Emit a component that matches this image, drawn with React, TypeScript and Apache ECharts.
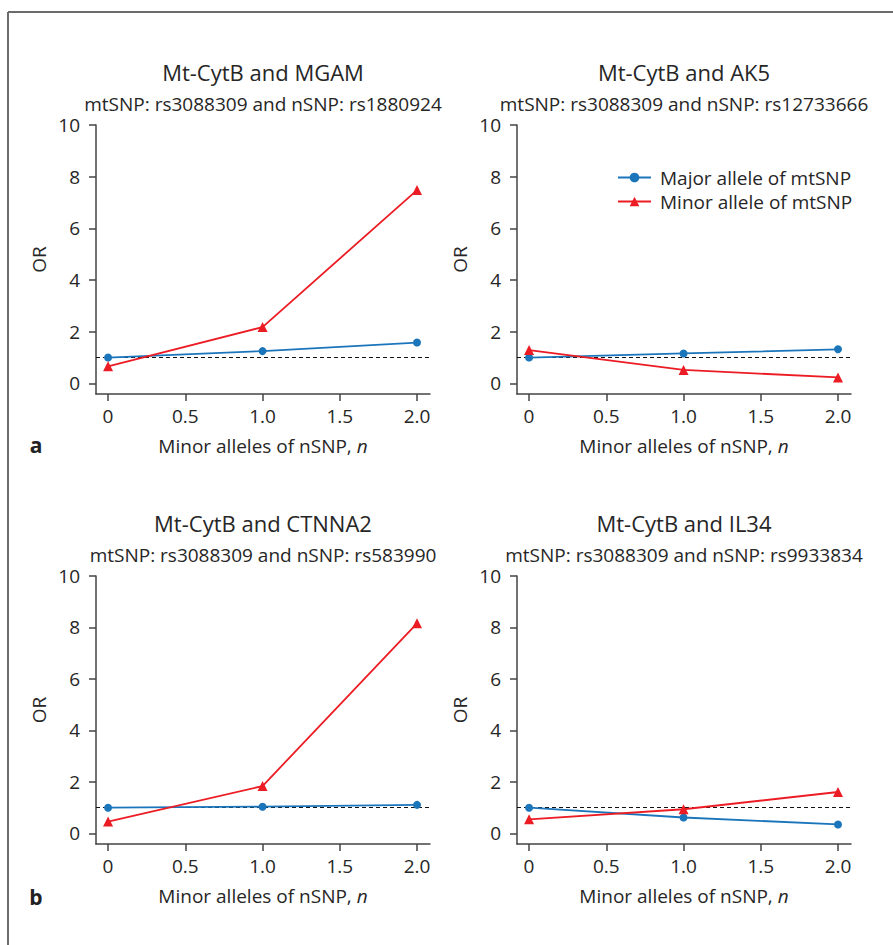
import React, { useEffect, useRef } from "react";
import * as echarts from "echarts";

const nValues = [0, 1, 2];
const xTicks = [0, 0.5, 1, 1.5, 2];
const yTicks = [0, 2, 4, 6, 8, 10];

const panelTitles = ["Mt-CytB and MGAM", "Mt-CytB and AK5", "Mt-CytB and CTNNA2", "Mt-CytB and IL34"];
const panelSubtitles = [
  "mtSNP: rs3088309 and nSNP: rs1880924",
  "mtSNP: rs3088309 and nSNP: rs12733666",
  "mtSNP: rs3088309 and nSNP: rs583990",
  "mtSNP: rs3088309 and nSNP: rs9933834",
];

const mgamMajor = [1.0, 1.25, 1.58];
const mgamMinor = [0.66, 2.18, 7.48];
const ak5Major = [1.0, 1.16, 1.32];
const ak5Minor = [1.29, 0.52, 0.23];
const ctnna2Major = [1.0, 1.04, 1.11];
const ctnna2Minor = [0.46, 1.84, 8.16];
const il34Major = [1.0, 0.62, 0.35];
const il34Minor = [0.55, 0.94, 1.61];

const majorName = "Major allele of mtSNP";
const minorName = "Minor allele of mtSNP";
const referenceOR = 1;

const FONT = "Open Sans";
const TEXT = "#262626";
const AXIS = "#444444";
const BLUE = "#1b75bb";
const RED = "#ec1c24";

export default function App() {
  const ref = useRef<HTMLDivElement>(null);
  useEffect(() => {
    document.body.style.margin = "0";
    const chart = echarts.init(ref.current!, null, { renderer: "svg" });

    const grids = [
      { left: 96, top: 125, width: 334, height: 269 },
      { left: 517, top: 125, width: 334, height: 269 },
      { left: 96, top: 576, width: 334, height: 268 },
      { left: 517, top: 576, width: 334, height: 268 },
    ];
    const majors = [mgamMajor, ak5Major, ctnna2Major, il34Major];
    const minors = [mgamMinor, ak5Minor, ctnna2Minor, il34Minor];

    const xAxes = grids.map((_, i) => ({
      type: "value",
      gridIndex: i,
      min: -0.078,
      max: 2.084,
      name: "Minor alleles of nSNP, {i|n}",
      nameLocation: "middle",
      nameGap: 42,
      nameTextStyle: {
        fontFamily: FONT,
        fontSize: 19,
        color: TEXT,
        rich: { i: { fontStyle: "italic", fontFamily: FONT, fontSize: 19, color: TEXT } },
      },
      axisLine: { show: true, onZero: false, lineStyle: { color: AXIS, width: 1.5 } },
      axisTick: { show: true, length: 7, customValues: xTicks, lineStyle: { color: AXIS, width: 1.5 } },
      axisLabel: {
        customValues: xTicks,
        margin: 12,
        fontFamily: FONT,
        fontSize: 19,
        color: TEXT,
        formatter: (v: number) => (v === 0 ? "0" : v.toFixed(1)),
      },
      splitLine: { show: false },
    }));

    const yAxes = grids.map((_, i) => ({
      type: "value",
      gridIndex: i,
      min: -0.41,
      max: 10,
      name: "OR",
      nameLocation: "middle",
      nameGap: 48,
      nameRotate: 90,
      nameTextStyle: { fontFamily: FONT, fontSize: 19, color: TEXT },
      axisLine: { show: true, onZero: false, lineStyle: { color: AXIS, width: 1.5 } },
      axisTick: { show: true, length: 7, customValues: yTicks, lineStyle: { color: AXIS, width: 1.5 } },
      axisLabel: { customValues: yTicks, margin: 16, fontFamily: FONT, fontSize: 19, color: TEXT },
      splitLine: { show: false },
    }));

    const series: any[] = [];
    grids.forEach((_, i) => {
      series.push({
        type: "line",
        name: majorName,
        xAxisIndex: i,
        yAxisIndex: i,
        data: nValues.map((x, k) => [x, majors[i][k]]),
        symbol: "circle",
        symbolSize: 8,
        lineStyle: { color: BLUE, width: 1.8 },
        itemStyle: { color: BLUE },
        z: 3,
        markLine: {
          silent: true,
          symbol: ["none", "none"],
          label: { show: false },
          lineStyle: { type: [4, 3], color: "#111", width: 1 },
          data: [{ yAxis: referenceOR }],
          z: 1,
        },
      });
      series.push({
        type: "line",
        name: minorName,
        xAxisIndex: i,
        yAxisIndex: i,
        data: nValues.map((x, k) => [x, minors[i][k]]),
        symbol: "triangle",
        symbolSize: 10,
        lineStyle: { color: RED, width: 1.8 },
        itemStyle: { color: RED },
        z: 4,
      });
    });

    const centers = grids.map((g) => g.left + g.width / 2);
    const titleY = [72, 72, 523, 523];
    const graphic: any[] = [
      { type: "line", shape: { x1: 8, y1: 12, x2: 893, y2: 12 }, style: { stroke: "#6b6b6b", lineWidth: 2 } },
      { type: "line", shape: { x1: 8, y1: 12, x2: 8, y2: 945 }, style: { stroke: "#6b6b6b", lineWidth: 2 } },
      { type: "text", x: 36, y: 445, style: { text: "a", fontFamily: FONT, fontSize: 21, fontWeight: "bold", fill: "#222", align: "center", verticalAlign: "middle" } },
      { type: "text", x: 36, y: 897, style: { text: "b", fontFamily: FONT, fontSize: 21, fontWeight: "bold", fill: "#222", align: "center", verticalAlign: "middle" } },
    ];
    panelTitles.forEach((t, i) => {
      graphic.push({
        type: "text",
        x: centers[i],
        y: titleY[i],
        style: { text: t, fontFamily: FONT, fontSize: 22, fill: TEXT, align: "center", verticalAlign: "middle" },
      });
      graphic.push({
        type: "text",
        x: centers[i],
        y: titleY[i] + 32,
        style: { text: panelSubtitles[i], fontFamily: FONT, fontSize: 19, fill: TEXT, align: "center", verticalAlign: "middle" },
      });
    });

    chart.setOption({
      animation: false,
      backgroundColor: "#fff",
      grid: grids,
      xAxis: xAxes,
      yAxis: yAxes,
      legend: {
        data: [majorName, minorName],
        orient: "vertical",
        left: 617,
        top: 168,
        padding: 0,
        itemWidth: 33,
        itemHeight: 12,
        itemGap: 5,
        textStyle: { fontFamily: FONT, fontSize: 19, color: TEXT, padding: [0, 0, 0, 4] },
      },
      graphic,
      series,
    });
    return () => chart.dispose();
  }, []);
  return <div ref={ref} style={{ width: 893, height: 945 }} />;
}
